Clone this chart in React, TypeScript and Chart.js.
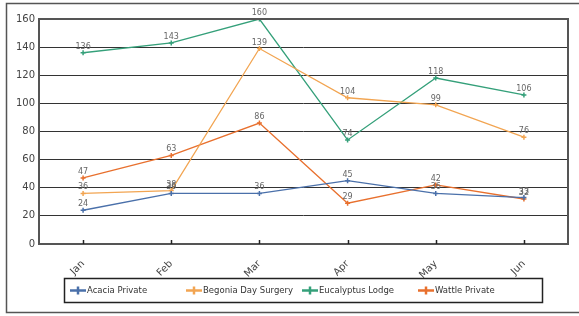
import React, { useEffect, useRef } from "react";
import { Chart, registerables } from "chart.js";

Chart.register(...registerables);

const categories = ["Jan", "Feb", "Mar", "Apr", "May", "Jun"];
const acacia = [24, 36, 36, 45, 36, 33];
const begonia = [36, 38, 139, 104, 99, 76];
const eucalyptus = [136, 143, 160, 74, 118, 106];
const wattle = [47, 63, 86, 29, 42, 32];
const seriesNames = ["Acacia Private", "Begonia Day Surgery", "Eucalyptus Lodge", "Wattle Private"];
const seriesColors = ["#4a70aa", "#f2a552", "#35a07a", "#e8702e"];
const yTicks = [0, 20, 40, 60, 80, 100, 120, 140, 160];

const FONT = "'DejaVu Sans', Verdana, sans-serif";

const framePlugin = {
  id: "frame",
  beforeDraw(chart: any) {
    const ctx = chart.ctx;
    ctx.save();
    ctx.fillStyle = "#ffffff";
    ctx.fillRect(0, 0, chart.width, chart.height);
    ctx.strokeStyle = "#555";
    ctx.lineWidth = 1.5;
    ctx.beginPath();
    ctx.moveTo(chart.width, 3.5);
    ctx.lineTo(6.5, 3.5);
    ctx.lineTo(6.5, 312.5);
    ctx.lineTo(chart.width, 312.5);
    ctx.stroke();
    ctx.restore();
  },
  afterDatasetsDraw(chart: any) {
    const ctx = chart.ctx;
    const a = chart.chartArea;
    ctx.save();
    // plot border
    ctx.strokeStyle = "#555";
    ctx.lineWidth = 2;
    ctx.strokeRect(a.left, a.top, a.right - a.left, a.bottom - a.top);
    // x tick marks inside
    const xs = chart.scales.x;
    ctx.strokeStyle = "#222";
    ctx.lineWidth = 1.5;
    categories.forEach((_, i) => {
      const px = Math.round(xs.getPixelForValue(i)) + 0.5;
      ctx.beginPath();
      ctx.moveTo(px, a.bottom - 4);
      ctx.lineTo(px, a.bottom);
      ctx.stroke();
    });
    // data labels
    ctx.font = `8px ${FONT}`;
    ctx.fillStyle = "#666";
    ctx.textAlign = "center";
    ctx.textBaseline = "bottom";
    chart.data.datasets.forEach((ds: any, di: number) => {
      const meta = chart.getDatasetMeta(di);
      meta.data.forEach((pt: any, i: number) => {
        ctx.fillText(String(ds.data[i]), pt.x, pt.y - 2);
      });
    });
    // legend
    const lx = 64.5, ly = 278.5, lw = 478, lh = 24;
    ctx.strokeStyle = "#222";
    ctx.lineWidth = 1.5;
    ctx.strokeRect(lx, ly, lw, lh);
    ctx.font = `8.5px ${FONT}`;
    ctx.textAlign = "left";
    ctx.textBaseline = "middle";
    const cy = ly + lh / 2;
    seriesNames.forEach((name, i) => {
      const x0 = 70 + i * 116;
      ctx.strokeStyle = seriesColors[i];
      ctx.lineWidth = 2.5;
      ctx.beginPath();
      ctx.moveTo(x0, cy);
      ctx.lineTo(x0 + 16, cy);
      ctx.stroke();
      ctx.lineWidth = 2.5;
      ctx.beginPath();
      ctx.moveTo(x0 + 8, cy - 4);
      ctx.lineTo(x0 + 8, cy + 4);
      ctx.stroke();
      ctx.fillStyle = "#333";
      ctx.fillText(name, x0 + 17, cy + 0.5);
    });
    ctx.restore();
  },
};

export default function App() {
  const ref = useRef<HTMLCanvasElement>(null);
  useEffect(() => {
    document.body.style.margin = "0";
    const mk = (label: string, data: number[], color: string) => ({
      label,
      data,
      borderColor: color,
      backgroundColor: color,
      borderWidth: 1.3,
      pointStyle: "cross",
      pointRadius: 2.5,
      pointBorderWidth: 1.5,
      tension: 0,
    });
    const chart = new Chart(ref.current!, {
      type: "line",
      data: {
        labels: categories,
        datasets: [
          mk(seriesNames[0], acacia, seriesColors[0]),
          mk(seriesNames[1], begonia, seriesColors[1]),
          mk(seriesNames[2], eucalyptus, seriesColors[2]),
          mk(seriesNames[3], wattle, seriesColors[3]),
        ],
      },
      plugins: [framePlugin],
      options: {
        animation: false,
        responsive: false,
        devicePixelRatio: 1,
        layout: { padding: { left: 0, top: 19, right: 11, bottom: 0 } },
        plugins: { legend: { display: false }, tooltip: { enabled: false } },
        scales: {
          x: {
            offset: true,
            grid: { display: false },
            border: { display: false },
            ticks: {
              minRotation: 45,
              maxRotation: 45,
              padding: 6,
              color: "#444",
              font: { family: FONT, size: 10 },
            },
            afterFit: (s: any) => {
              s.height = 72;
            },
          },
          y: {
            min: 0,
            max: 160,
            afterBuildTicks: (s: any) => {
              s.ticks = yTicks.map((v) => ({ value: v }));
            },
            grid: { color: "#333", lineWidth: 1, drawTicks: false },
            border: { display: false },
            ticks: {
              padding: 4,
              color: "#444",
              font: { family: FONT, size: 10 },
            },
            afterFit: (s: any) => {
              s.width = 39;
            },
          },
        },
      },
    });
    return () => chart.destroy();
  }, []);
  return <canvas ref={ref} width={579} height={316} style={{ display: "block" }} />;
}
